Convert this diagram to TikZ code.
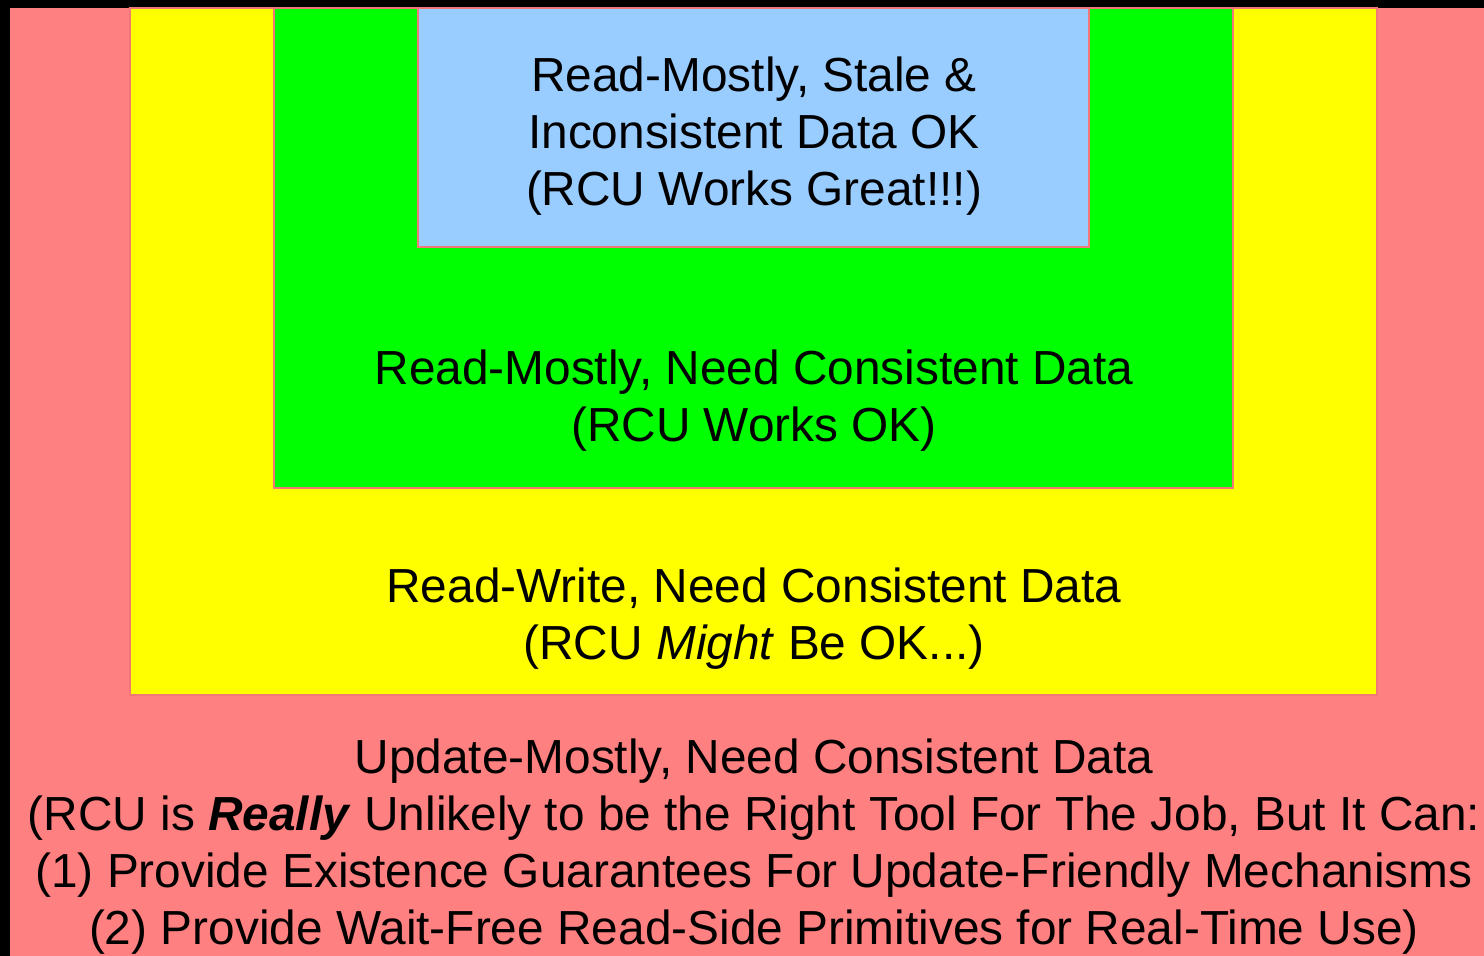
\documentclass[tikz,border=0pt]{standalone}
\usepackage{fontspec}
\setmainfont{Liberation Sans}
\definecolor{rcured}{HTML}{FF8080}
\definecolor{rcuyellow}{HTML}{FFFF00}
\definecolor{rcugreen}{HTML}{00FF00}
\definecolor{rcublue}{HTML}{99CCFF}
\definecolor{rcuedge}{HTML}{F07878}
\tikzset{
  zone/.style={draw=rcuedge,line width=0.6pt},
  zonetext/.style={align=center,anchor=base,inner sep=0pt,
    font=\fontsize{23.9pt}{28.5pt}\selectfont}
}
\begin{document}
\begin{tikzpicture}[x=0.5pt,y=-0.5pt]
\fill[black] (0,0) rectangle (1484,956);
\useasboundingbox (0,0) rectangle (1484,956);
\fill[rcured] (10,8) rectangle (1484,956);
\draw[zone,fill=rcuyellow] (130,8) rectangle (1377,695);
\draw[zone,fill=rcugreen] (274,8) rectangle (1233,488);
\draw[zone,fill=rcublue] (418,8) rectangle (1089,247);
% anchor=base sits on the last line
\node[zonetext] (stale) at (754,206) {Read-Mostly, Stale \&\\Inconsistent Data OK\\(RCU Works Great!!!)};
\node[zonetext] (readmostly) at (754,442) {Read-Mostly, Need Consistent Data\\(RCU Works OK)};
\node[zonetext] (readwrite) at (754,660) {Read-Write, Need Consistent Data\\(RCU \textit{Might} Be OK...)};
\node[zonetext] (update) at (754,944) {Update-Mostly, Need Consistent Data\\(RCU is \textbf{\textit{Really}} Unlikely to be the Right Tool For The Job, But It Can:\\(1) Provide Existence Guarantees For Update-Friendly Mechanisms\\(2) Provide Wait-Free Read-Side Primitives for Real-Time Use)};
\end{tikzpicture}
\end{document}
